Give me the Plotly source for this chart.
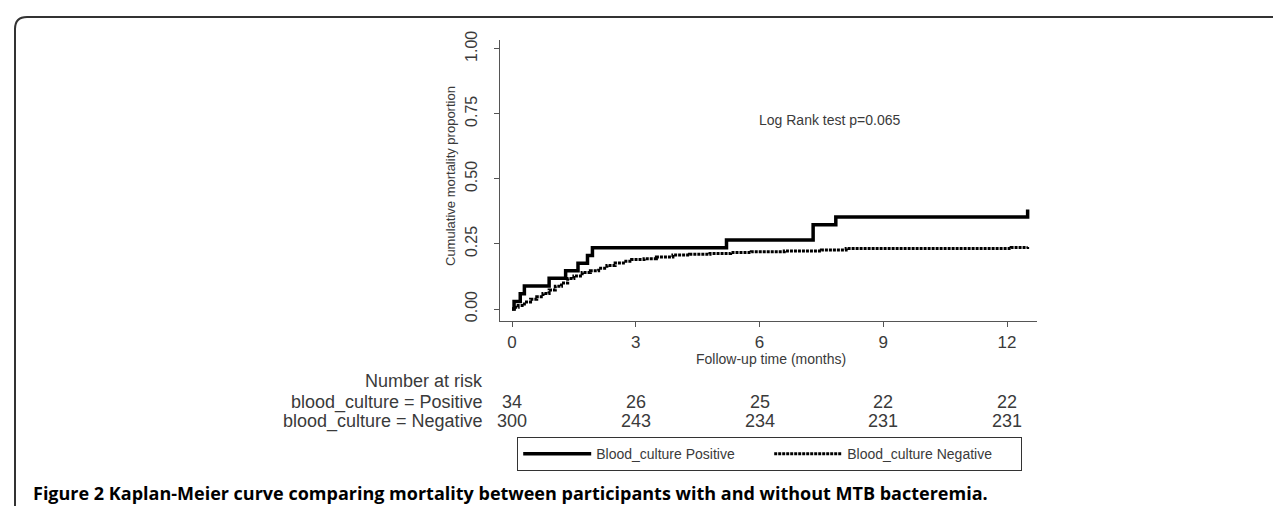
import plotly.graph_objects as go

# ---------------- data ----------------
pos_time = [0, 0.05, 0.2, 0.3, 0.9, 1.3, 1.6, 1.83, 1.95, 5.2, 7.3, 7.85, 12.5]
pos_cum = [0, 0.029, 0.059, 0.088, 0.118, 0.147, 0.176, 0.206, 0.235, 0.265, 0.324, 0.353, 0.382]

neg_time = [0, 0.05, 0.15, 0.3, 0.45, 0.6, 0.75, 0.9, 1.05, 1.2, 1.35, 1.5, 1.7, 1.9,
            2.1, 2.3, 2.5, 2.7, 2.9, 3.2, 3.5, 3.9, 4.3, 4.8, 5.3, 5.8, 6.6, 7.5, 8.1,
            12.1, 12.5]
neg_cum = [0, 0.007, 0.013, 0.027, 0.037, 0.047, 0.06, 0.073, 0.087, 0.1, 0.117, 0.127,
           0.14, 0.147, 0.157, 0.167, 0.177, 0.183, 0.19, 0.193, 0.2, 0.207, 0.21, 0.213,
           0.217, 0.22, 0.223, 0.227, 0.232, 0.236, 0.238]

x_ticks = [0, 3, 6, 9, 12]
y_ticks = [0, 0.25, 0.5, 0.75, 1.0]
y_tick_labels = ["0.00", "0.25", "0.50", "0.75", "1.00"]

risk_times = [0, 3, 6, 9, 12]
risk_pos = [34, 26, 25, 22, 22]
risk_neg = [300, 243, 234, 231, 231]

series_names = ["Blood_culture Positive", "Blood_culture Negative"]
risk_labels = ["blood_culture = Positive", "blood_culture = Negative"]
caption = ("Figure 2 Kaplan-Meier curve comparing mortality between participants "
           "with and without MTB bacteremia.")

# ---------------- layout geometry (pixels) ----------------
W, H = 1281, 506
L, R, T, B = 492, 1029, 32, 313  # plot area in pixels
pw, ph = R - L, B - T


def px_x(px):
    return (px - L) / pw


def px_y(py):
    return (B - py) / ph


FONT = "Liberation Sans, Arial, sans-serif"
GREY = "#3a3a3a"

fig = go.Figure()
fig.add_trace(go.Scatter(x=pos_time, y=pos_cum, mode="lines", line_shape="hv",
                         name=series_names[0],
                         line=dict(color="black", width=3.5)))
fig.add_trace(go.Scatter(x=neg_time, y=neg_cum, mode="lines", line_shape="hv",
                         name=series_names[1],
                         line=dict(color="black", width=3, dash="3px,1px")))

ann = []
# y axis title
ann.append(dict(x=px_x(442), y=px_y(168), xref="paper", yref="paper",
                xanchor="center", yanchor="middle",
                text="Cumulative mortality proportion", textangle=-90, showarrow=False,
                font=dict(family=FONT, size=13, color=GREY)))
# x axis title
ann.append(dict(x=6.27, y=px_y(351), xref="x", yref="paper",
                xanchor="center", yanchor="middle",
                text="Follow-up time (months)", showarrow=False,
                font=dict(family=FONT, size=14, color=GREY)))
# log rank
ann.append(dict(x=7.7, y=0.725, xref="x", yref="y", text="Log Rank test p=0.065",
                xanchor="center", yanchor="middle",
                showarrow=False, font=dict(family=FONT, size=14, color=GREY)))
# number at risk table
ann.append(dict(x=px_x(477), y=px_y(373), xref="paper", yref="paper",
                text="Number at risk", showarrow=False, xanchor="right", yanchor="middle",
                font=dict(family=FONT, size=18, color=GREY)))
for lab, py in zip(risk_labels, [394, 413]):
    ann.append(dict(x=px_x(477), y=px_y(py), xref="paper", yref="paper",
                    text=lab, showarrow=False, xanchor="right", yanchor="middle",
                    font=dict(family=FONT, size=18, color=GREY)))
for t, a, b in zip(risk_times, risk_pos, risk_neg):
    ann.append(dict(x=t, y=px_y(394), xref="x", yref="paper", text=str(a),
                    xanchor="center", yanchor="middle",
                    showarrow=False, font=dict(family=FONT, size=18, color=GREY)))
    ann.append(dict(x=t, y=px_y(413), xref="x", yref="paper", text=str(b),
                    xanchor="center", yanchor="middle",
                    showarrow=False, font=dict(family=FONT, size=18, color=GREY)))
# caption
ann.append(dict(x=px_x(23), y=px_y(485), xref="paper", yref="paper", text="<b>" + caption + "</b>",
                showarrow=False, xanchor="left", yanchor="middle",
                font=dict(family="Open Sans, Noto Sans, sans-serif", size=18, color="black")))

# rounded frame (top-left corner visible)
x0, y0 = px_x(7), px_y(9)
xr, yb = px_x(1300), px_y(530)
rx, ry = 12 / pw, 12 / ph
frame_path = (f"M {x0},{yb} L {x0},{y0 - ry} Q {x0},{y0} {x0 + rx},{y0} L {xr},{y0}")

fig.update_layout(
    width=W, height=H,
    margin=dict(l=L, r=W - R, t=T, b=H - B, autoexpand=False),
    paper_bgcolor="white", plot_bgcolor="white",
    showlegend=True,
    legend=dict(orientation="h", xref="container", yref="container",
                x=509 / W, y=1 - 429 / H, xanchor="left", yanchor="top",
                bordercolor="#333", borderwidth=1.2, bgcolor="white",
                itemwidth=68, entrywidth=168, tracegroupgap=0,
                font=dict(family=FONT, size=14, color=GREY)),
    annotations=ann,
    shapes=[dict(type="path", path=frame_path, xref="paper", yref="paper",
                 line=dict(color="#333", width=2), layer="above")],
    xaxis=dict(range=[-(504 - L) / 41.25, 12 + (R - 999) / 41.25], tickvals=x_ticks,
               showgrid=False, zeroline=False, showline=True, linecolor="#555",
               linewidth=1.3, ticks="outside", ticklen=5, tickcolor="#555", tickwidth=1.3,
               ticklabelstandoff=0,
               tickfont=dict(family=FONT, size=17, color=GREY)),
    yaxis=dict(range=[-(B - 301) / 260.3, 1 + (40.7 - T) / 260.3], tickvals=y_ticks,
               ticktext=y_tick_labels, tickangle=-90,
               showgrid=False, zeroline=False, showline=True, linecolor="#555",
               linewidth=1.3, ticks="outside", ticklen=5, tickcolor="#555", tickwidth=1.3,
               ticklabelstandoff=10,
               tickfont=dict(family=FONT, size=16, color=GREY)),
)

fig.write_html("out.html")
